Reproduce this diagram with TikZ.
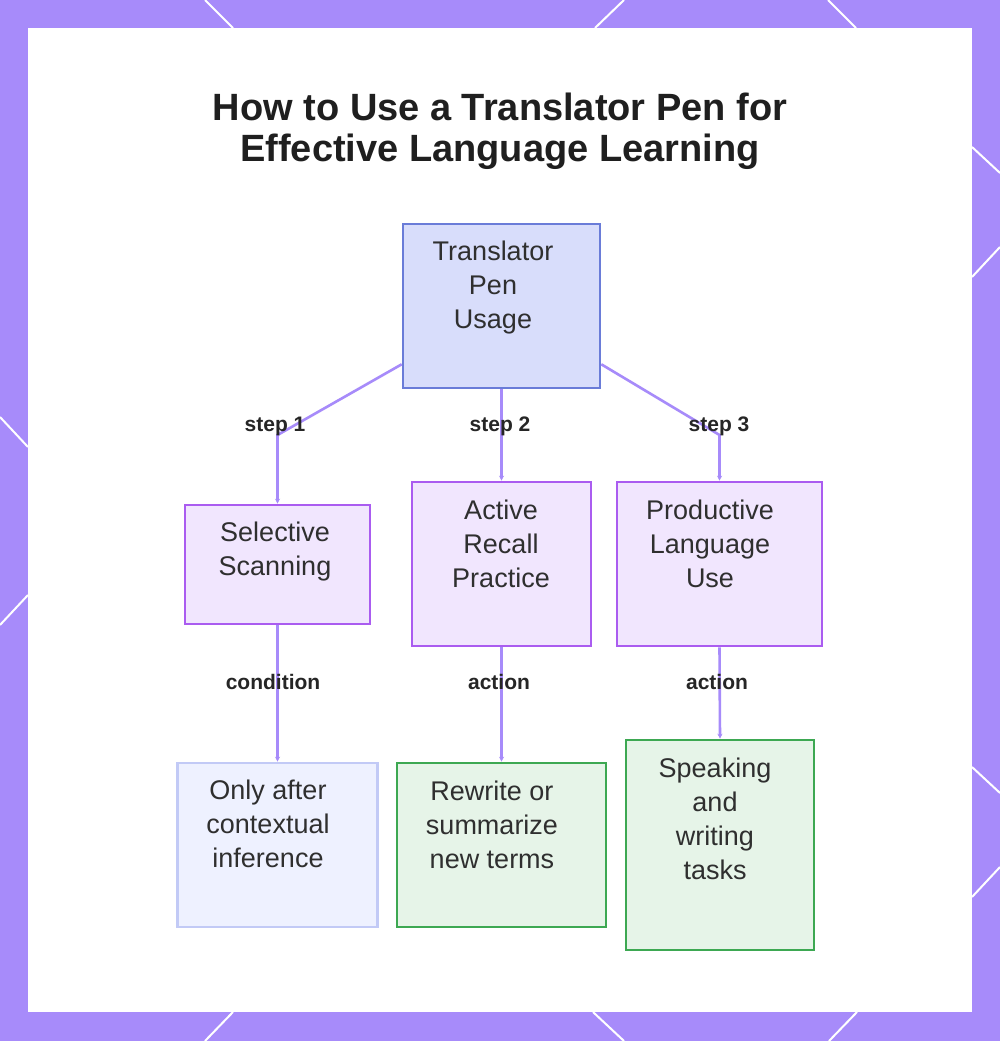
\documentclass[tikz,border=0pt]{standalone}
\usepackage{fontspec}
\setmainfont{Liberation Sans}
\usetikzlibrary{arrows.meta}
\definecolor{frame}{HTML}{A78BFA}
\definecolor{edgec}{HTML}{A78BFA}
\definecolor{rootfill}{HTML}{D8DDFB}
\definecolor{rootdraw}{HTML}{6A7CD8}
\definecolor{purfill}{HTML}{F1E6FE}
\definecolor{purdraw}{HTML}{AA5CF0}
\definecolor{blufill}{HTML}{EEF1FF}
\definecolor{bludraw}{HTML}{C2CAF6}
\definecolor{grnfill}{HTML}{E6F4E8}
\definecolor{grndraw}{HTML}{3DA852}
\definecolor{txt}{HTML}{2F2F2F}
\begin{document}
\begin{tikzpicture}[x=1pt,y=-1pt,
  boxbase/.style={rectangle, line width=2.6pt, inner sep=0pt},
  rootbox/.style={boxbase, fill=rootfill, draw=rootdraw},
  purbox/.style={boxbase, fill=purfill, draw=purdraw},
  blubox/.style={boxbase, fill=blufill, draw=bludraw},
  grnbox/.style={boxbase, fill=grnfill, draw=grndraw},
  boxtext/.style={anchor=north, inner sep=0pt, align=center, text=txt,
    font=\fontsize{27}{34}\selectfont},
  edgelabel/.style={anchor=base, inner sep=0pt, text=black!85,
    font=\fontsize{21}{25}\selectfont\bfseries},
  edge/.style={draw=edgec, line width=2.6pt},
  arrowedge/.style={edge, -{Stealth[length=5pt,width=5pt]}},
  deco/.style={draw=white, line width=2pt}
]
\useasboundingbox (0,0) rectangle (1000,1041);
% frame
\fill[frame] (0,0) rectangle (1000,1041);
\draw[deco] (205,0) -- (233,28);
\draw[deco] (624,0) -- (595,28);
\draw[deco] (828,0) -- (856,28);
\draw[deco] (0,417) -- (28,447);
\draw[deco] (28,595) -- (0,625);
\draw[deco] (972,147) -- (1000,173);
\draw[deco] (1000,247) -- (972,277);
\draw[deco] (972,767) -- (1000,793);
\draw[deco] (1000,867) -- (972,897);
\draw[deco] (233,1012) -- (205,1041);
\draw[deco] (593,1012) -- (624,1041);
\draw[deco] (857,1012) -- (829,1041);
\fill[white] (28,28) rectangle (972,1012);
% title
\node[inner sep=0pt, anchor=base, text=black!88, font=\fontsize{38}{41}\selectfont\bfseries] (title1) at (500,120) {How to Use a Translator Pen for};
\node[inner sep=0pt, anchor=base, text=black!88, font=\fontsize{38}{41}\selectfont\bfseries] (title2) at (500,161) {Effective Language Learning};
% boxes
\node[rootbox, minimum width=197pt, minimum height=164pt] (root) at (501.5,306) {};
\node[purbox, minimum width=185pt, minimum height=119pt] (sel) at (277.5,564.5) {};
\node[purbox, minimum width=179pt, minimum height=164pt] (arp) at (501.5,564) {};
\node[purbox, minimum width=205pt, minimum height=164pt] (plu) at (719.5,564) {};
\node[blubox, minimum width=200pt, minimum height=164pt] (oai) at (277.5,845) {};
\node[grnbox, minimum width=209pt, minimum height=164pt] (rew) at (501.5,845) {};
\node[grnbox, minimum width=188pt, minimum height=210pt] (spk) at (720,845) {};
% box texts
\node[boxtext] (roott) at (493,241) {Translator\\Pen\\Usage};
\node[boxtext] (selt) at (275,522) {Selective\\Scanning};
\node[boxtext] (arpt) at (501,500) {Active\\Recall\\Practice};
\node[boxtext] (plut) at (710,500) {Productive\\Language\\Use};
\node[boxtext] (oait) at (268,780) {Only after\\contextual\\inference};
\node[boxtext] (rewt) at (492,781) {Rewrite or\\summarize\\new terms};
\node[boxtext] (spkt) at (715,758) {Speaking\\and\\writing\\tasks};
% connectors
\coordinate (b1) at (277.5,435);
\coordinate (b3) at (719.5,435);
\draw[arrowedge] ([yshift=25pt]root.south west) -- (b1) -- (sel.north);
\draw[arrowedge] (root.south) -- (arp.north);
\draw[arrowedge] ([yshift=25pt]root.south east) -- (b3) -- (plu.north);
\draw[arrowedge] (sel.south) -- (oai.north);
\draw[arrowedge] (arp.south) -- (rew.north);
\draw[arrowedge] (plu.south) -- (spk.north);
% labels
\node[edgelabel] (l1) at (275,431) {step 1};
\node[edgelabel] (l2) at (500,431) {step 2};
\node[edgelabel] (l3) at (719,431) {step 3};
\node[edgelabel] (l4) at (273,689) {condition};
\node[edgelabel] (l5) at (499,689) {action};
\node[edgelabel] (l6) at (717,689) {action};
\end{tikzpicture}
\end{document}
